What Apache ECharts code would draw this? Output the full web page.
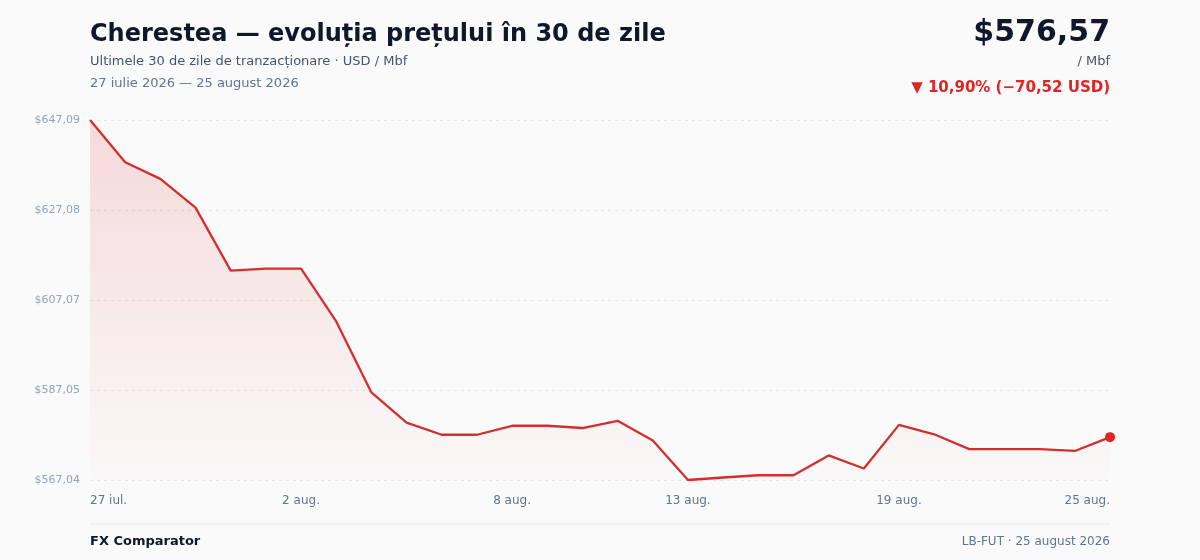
<!DOCTYPE html>
<html>
<head>
  <meta charset="utf-8"/>
  <script src="https://cdn.jsdelivr.net/npm/echarts@6/dist/echarts.min.js"></script>
  <style>
    html, body { margin: 0; padding: 0; background: #fafafa; }
    #chartmain { width: 1200px; height: 560px; }
  </style>
</head>
<body>
  <div id="chartmain"></div>
  <script type="text/javascript">
    // zile (27 iul. - 25 aug. 2026)
    var days = ['27 iul.', '28 iul.', '29 iul.', '30 iul.', '31 iul.', '1 aug.', '2 aug.', '3 aug.', '4 aug.', '5 aug.',
                '6 aug.', '7 aug.', '8 aug.', '9 aug.', '10 aug.', '11 aug.', '12 aug.', '13 aug.', '14 aug.', '15 aug.',
                '16 aug.', '17 aug.', '18 aug.', '19 aug.', '20 aug.', '21 aug.', '22 aug.', '23 aug.', '24 aug.', '25 aug.'];
    // pret USD / Mbf
    var prices = [647.09, 637.70, 634.00, 627.60, 613.60, 614.05, 614.05, 602.30, 586.50, 579.80,
                  577.10, 577.10, 579.10, 579.10, 578.60, 580.20, 575.80, 567.04, 567.60, 568.10,
                  568.10, 572.50, 569.60, 579.30, 577.20, 573.90, 573.90, 573.90, 573.50, 576.57];
    // etichete axe
    var xLabelIdx = [0, 6, 12, 17, 23, 29];
    var yTicks = ['$567,04', '$587,05', '$607,07', '$627,08', '$647,09'];

    var yMin = Math.min.apply(null, prices);
    var yMax = Math.max.apply(null, prices);
    var yStep = (yMax - yMin) / (yTicks.length - 1);

    var font = 'DejaVu Sans';
    var red = '#dc2626';

    function txt(size, weight, color) {
      return { fontFamily: font, fontSize: size, fontWeight: weight, color: color };
    }

    var option = {
      backgroundColor: '#fafafa',
      animation: false,
      textStyle: { fontFamily: font },
      title: [
        { text: 'Cherestea — evoluția prețului în 30 de zile', left: 90, top: 23, padding: 0,
          textStyle: txt(24, 'bold', '#0f172a') },
        { text: 'Ultimele 30 de zile de tranzacționare · USD / Mbf', left: 90, top: 55, padding: 0,
          textStyle: txt(13, 'normal', '#475569') },
        { text: '27 iulie 2026 — 25 august 2026', left: 90, top: 77, padding: 0,
          textStyle: txt(13, 'normal', '#64748b') },
        { text: '$576,57', right: 90, top: 18, padding: 0,
          textStyle: txt(30, 'bold', '#0f172a') },
        { text: '/ Mbf', right: 90, top: 55, padding: 0,
          textStyle: txt(13, 'normal', '#475569') },
        { text: '▼ 10,90% (−70,52 USD)', right: 90, top: 81, padding: 0,
          textStyle: txt(15, 'bold', red) },
        { text: 'FX Comparator', left: 90, top: 535, padding: 0,
          textStyle: txt(13, 'bold', '#0f172a') },
        { text: 'LB-FUT · 25 august 2026', right: 90, top: 536, padding: 0,
          textStyle: txt(12, 'normal', '#64748b') }
      ],
      graphic: [
        { type: 'line', shape: { x1: 90, y1: 524, x2: 1110, y2: 524 },
          style: { stroke: '#e5e7eb', lineWidth: 1 } }
      ],
      grid: { left: 90, right: 90, top: 120, bottom: 80, containLabel: false },
      xAxis: {
        type: 'category',
        boundaryGap: false,
        data: days,
        axisLine: { show: false },
        axisTick: { show: false },
        splitLine: { show: false },
        axisLabel: {
          interval: function (i) { return xLabelIdx.indexOf(i) >= 0; },
          color: '#64748b',
          fontSize: 12,
          fontFamily: font,
          margin: 15,
          alignMinLabel: 'left',
          alignMaxLabel: 'right'
        }
      },
      yAxis: {
        type: 'value',
        min: yMin,
        max: yMax,
        interval: yStep,
        axisLine: { show: false },
        axisTick: { show: false },
        splitLine: { lineStyle: { color: '#e2e5ea', type: [3, 4], width: 1 } },
        axisLabel: {
          color: '#94a3b8',
          fontSize: 11,
          fontFamily: font,
          margin: 10,
          formatter: function (v) {
            return yTicks[Math.round((v - yMin) / yStep)];
          }
        }
      },
      series: [
        {
          type: 'line',
          data: prices,
          symbol: 'none',
          lineStyle: { color: '#d32f2f', width: 2.3 },
          areaStyle: {
            origin: 'start',
            color: new echarts.graphic.LinearGradient(0, 0, 0, 1, [
              { offset: 0, color: 'rgba(220, 38, 38, 0.22)' },
              { offset: 1, color: 'rgba(220, 38, 38, 0.01)' }
            ])
          },
          markPoint: {
            symbol: 'circle',
            symbolSize: 10,
            label: { show: false },
            itemStyle: { color: red },
            data: [{ coord: [prices.length - 1, prices[prices.length - 1]] }]
          }
        }
      ]
    };

    var myChart = echarts.init(document.getElementById('chartmain'));
    myChart.setOption(option);
  </script>
</body>
</html>
